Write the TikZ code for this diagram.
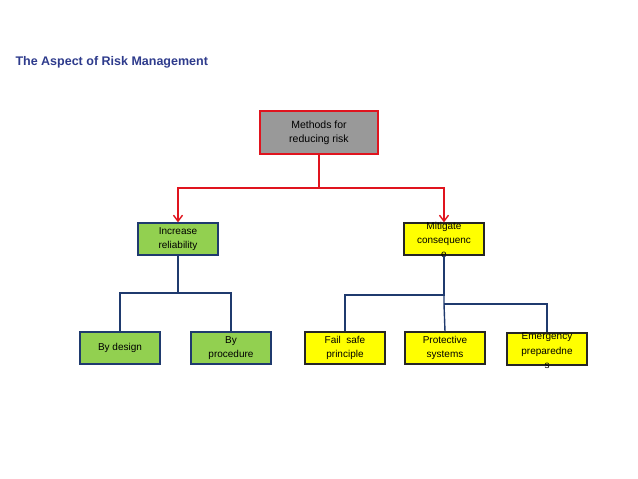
\documentclass[tikz,border=0pt]{standalone}
\usepackage{fontspec}
\setmainfont{Liberation Sans}
\usetikzlibrary{arrows.meta}
\definecolor{tblue}{HTML}{2E3B8C}
\definecolor{lblue}{HTML}{1F3A6E}
\definecolor{gfill}{HTML}{92D050}
\definecolor{yfill}{HTML}{FFFF00}
\definecolor{rline}{HTML}{E0141E}
\tikzset{
 bx/.style={draw=lblue, line width=1.3pt, minimum width=80pt, minimum height=32pt, inner sep=0pt, align=center, font=\fontsize{10}{13.5}\selectfont},
 gbox/.style={bx, fill=gfill},
 ybox/.style={bx, fill=yfill, draw=black!85},
 bl/.style={draw=lblue, line width=1.4pt},
 rl/.style={draw=rline, line width=1.4pt},
}
\begin{document}
\begin{tikzpicture}[x=1pt,y=-1pt]
\useasboundingbox (0,0) rectangle (638,479);
\node[anchor=west, font=\bfseries\fontsize{12.5}{14}\selectfont, text=tblue] (title) at (12,62) {The Aspect of Risk Management};
\node[bx, fill=black!40, draw=rline, minimum width=118pt, minimum height=43pt, font=\fontsize{10.5}{14}\selectfont] (top) at (319,132.5) {Methods for\\reducing risk};
\node[gbox] (inc) at (178,239) {Increase\\reliability};
\node[ybox] (mit) at (444,239) {};
\node[font=\fontsize{10}{14}\selectfont, align=center] (mitt) at (444,240) {Mitigate\\consequenc\\e};
\node[gbox] (des) at (120,348) {By design};
\node[gbox] (pro) at (231,348) {By\\procedure};
\node[ybox] (fs) at (345,348) {Fail \ safe\\principle};
\node[ybox] (ps) at (445,348) {Protective\\systems};
\node[ybox] (em) at (547,349) {};
\node[font=\fontsize{10}{14.5}\selectfont, align=center] (emt) at (547,351) {Emergency\\preparedne\\s};
\coordinate (r1) at (319,188);
\draw[rl, -{Straight Barb[open,length=6pt,width=9pt]}] (top.south) -- (r1) -| (inc.north);
\draw[rl, -{Straight Barb[open,length=6pt,width=9pt]}] (r1) -| (mit.north);
\coordinate (b1) at (178,293);
\draw[bl] (inc.south) -- (b1) -| (des.north);
\draw[bl] (b1) -| (pro.north);
\coordinate (m1) at (444,295);
\coordinate (m2) at (444,304);
\draw[bl] (mit.south) -- (m1) -| (fs.north);
\draw[bl] (m1) -- (m2) -- (ps.north);
\draw[bl] (m2) -| (em.north);
\end{tikzpicture}
\end{document}
